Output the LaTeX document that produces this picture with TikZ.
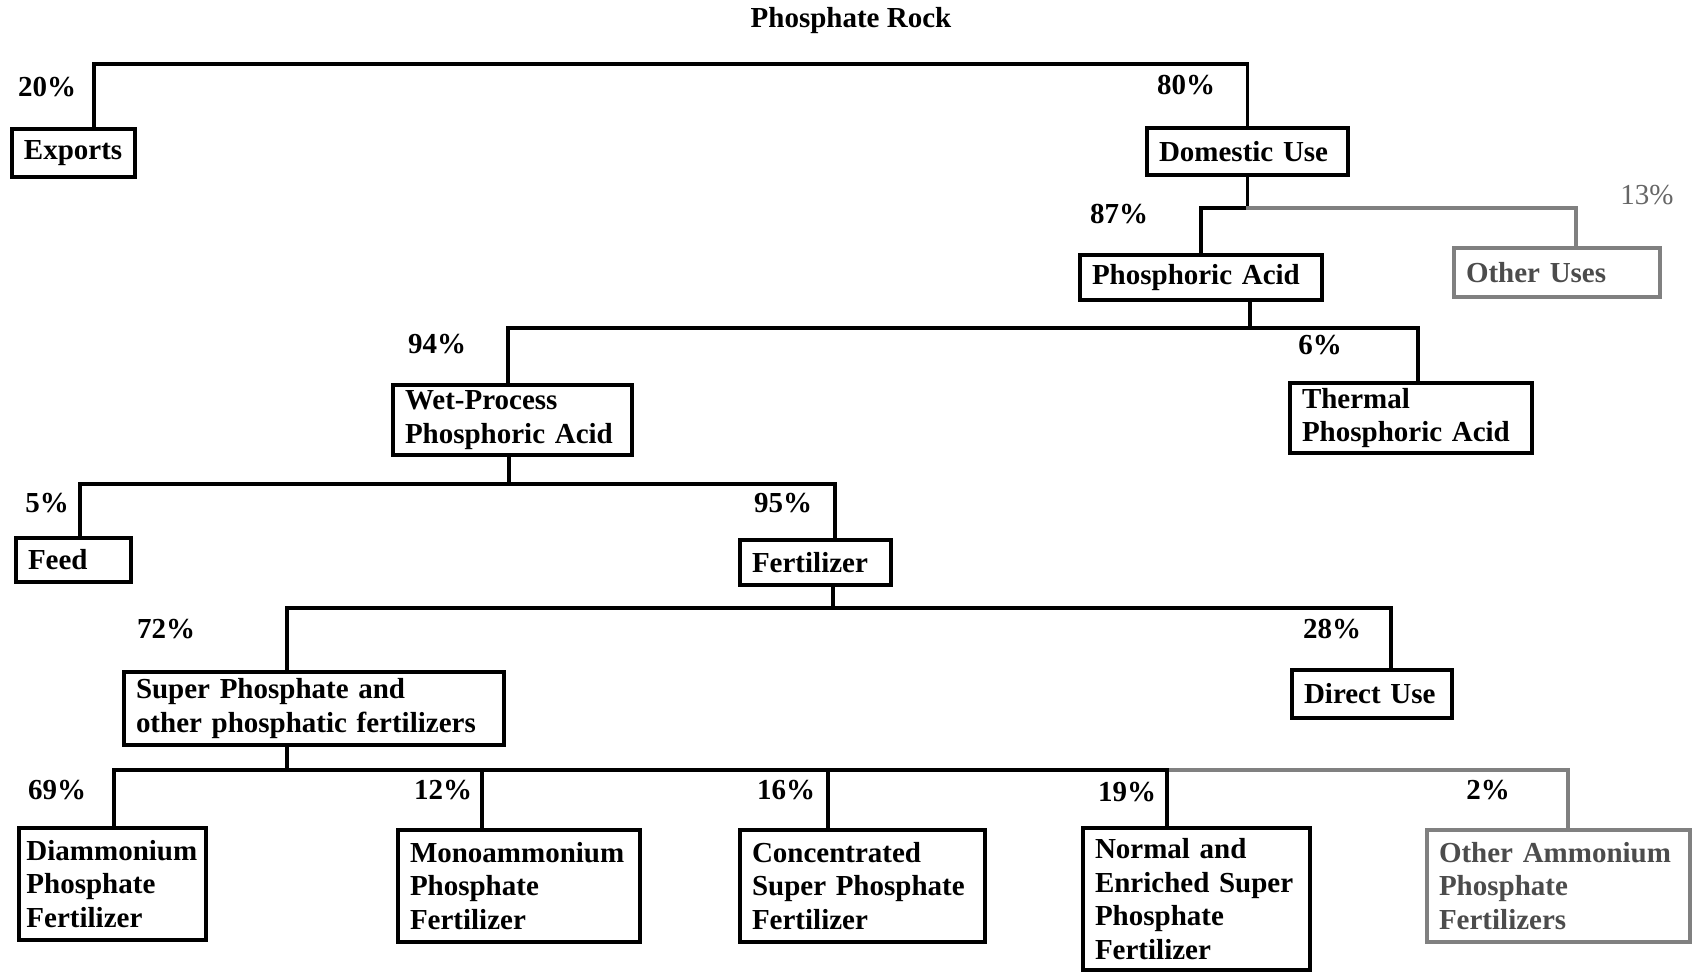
\documentclass[tikz,border=0pt]{standalone}
\usepackage{fontspec}
\setmainfont{Liberation Serif}
\usetikzlibrary{positioning}

\tikzset{
  box/.style 2 args={draw, line width=2.6pt, inner xsep=2.4mm, inner ysep=1mm,
    text width=#1, minimum height=#2, align=left},
  link/.style={line width=2.2pt, line cap=rect},
  faint/.style={draw=black!50, text=black!70},
}

\begin{document}
\begin{tikzpicture}[x=0.2mm, y=-0.2mm, font=\fontsize{16.5}{19}\selectfont\bfseries]
  \useasboundingbox (0,0) rectangle (1700,973);

  \node (rock) at (851,21) {Phosphate Rock};

  % boxes
  \node (exports)  [box={19.8mm}{9.6mm}]  at (73.5,153)   {Exports};
  \node (domestic) [box={35.4mm}{9.4mm}]  at (1247.5,151.5) {Domestic Use};
  \node (phos)     [box={43.6mm}{9mm}]    at (1201,277.5) {Phosphoric Acid};
  \node (other)    [box={36.4mm}{9.8mm}, faint] at (1557,272.5) {Other Uses};
  \node (wet)      [box={43mm}{14mm}]     at (512.5,420)  {Wet-Process\\Phosphoric Acid};
  \node (thermal)  [box={43.6mm}{14mm}]   at (1411,418)   {Thermal\\Phosphoric Acid};
  \node (feed)     [box={18.2mm}{8.8mm}]  at (73.5,560)   {Feed};
  \node (fert)     [box={25.4mm}{9mm}]    at (815.5,562.5) {Fertilizer};
  \node (super)    [box={71.2mm}{14.6mm}] at (314,708.5)  {Super Phosphate and\\other phosphatic fertilizers};
  \node (direct)   [box={27.2mm}{9.6mm}]  at (1372,694)   {Direct Use};
  \node (diam)     [box={34.4mm}{22.4mm}, inner xsep=1.5mm] at (112.5,884) {Diammonium\\Phosphate\\Fertilizer};
  \node (mono)     [box={43.6mm}{22.4mm}] at (519,886)    {Monoammonium\\Phosphate\\Fertilizer};
  \node (conc)     [box={44.2mm}{22.4mm}] at (862.5,886)  {Concentrated\\Super Phosphate\\Fertilizer};
  \node (normal)   [box={40.6mm}{28.4mm}] at (1196.5,899) {Normal and\\Enriched Super\\Phosphate\\Fertilizer};
  \node (otheramm) [box={47.8mm}{22.4mm}, faint] at (1558.5,886) {Other Ammonium\\Phosphate\\Fertilizers};

  % shares
  \node (p20) at (47,87)    {20\%};
  \node (p80) at (1186,85)  {80\%};
  \node (p87) at (1119,214) {87\%};
  \node (p13) [font=\fontsize{16.5}{19}\selectfont\mdseries, text=black!60] at (1647,195) {13\%};
  \node (p94) at (437,344)  {94\%};
  \node (p6)  at (1320,345) {6\%};
  \node (p5)  at (47,503)   {5\%};
  \node (p95) at (783,503)  {95\%};
  \node (p72) at (166,629)  {72\%};
  \node (p28) at (1332,629) {28\%};
  \node (p69) at (57,790)   {69\%};
  \node (p12) at (443,790)  {12\%};
  \node (p16) at (786,790)  {16\%};
  \node (p19) at (1127,792) {19\%};
  \node (p2)  at (1488,790) {2\%};

  % rock
  \draw[link] ([xshift=4.1mm]exports.north) |- (domestic.north |- 0,64) -- (domestic.north);
  % domestic use
  \draw[link] (domestic.south) -- (domestic.south |- 0,208) coordinate (j2) -| (phos.north);
  \draw[link, black!50] (j2) -| ([xshift=3.8mm]other.north);
  % phosphoric acid
  \draw[link] ([xshift=9.8mm]phos.south) coordinate (s3) -- (s3 |- 0,328) coordinate (j3)
    -| ([xshift=-0.9mm]wet.north);
  \draw[link] (j3) -| ([xshift=1.4mm]thermal.north);
  % wet-process
  \draw[link] ([xshift=-0.7mm]wet.south) coordinate (s4) -- (s4 |- 0,484) coordinate (j4)
    -| ([xshift=1.3mm]feed.north);
  \draw[link] (j4) -| ([xshift=3.9mm]fert.north);
  % fertilizer
  \draw[link] ([xshift=3.5mm]fert.south) coordinate (s5) -- (s5 |- 0,608) coordinate (j5)
    -| ([xshift=-5.4mm]super.north);
  \draw[link] (j5) -| ([xshift=3.8mm]direct.north);
  % super phosphate
  \draw[link, black!50] ([xshift=-5.4mm]super.south |- 0,770) -| ([xshift=1.9mm]otheramm.north);
  \draw[link] ([xshift=-5.4mm]super.south) coordinate (s6) -- (s6 |- 0,770) coordinate (j6)
    -| ([xshift=0.3mm]diam.north);
  \draw[link] (j6) -| ([xshift=-7.4mm]mono.north);
  \draw[link] (j6) -| ([xshift=-6.9mm]conc.north);
  \draw[link] (j6) -| ([xshift=-5.9mm]normal.north);
\end{tikzpicture}
\end{document}
